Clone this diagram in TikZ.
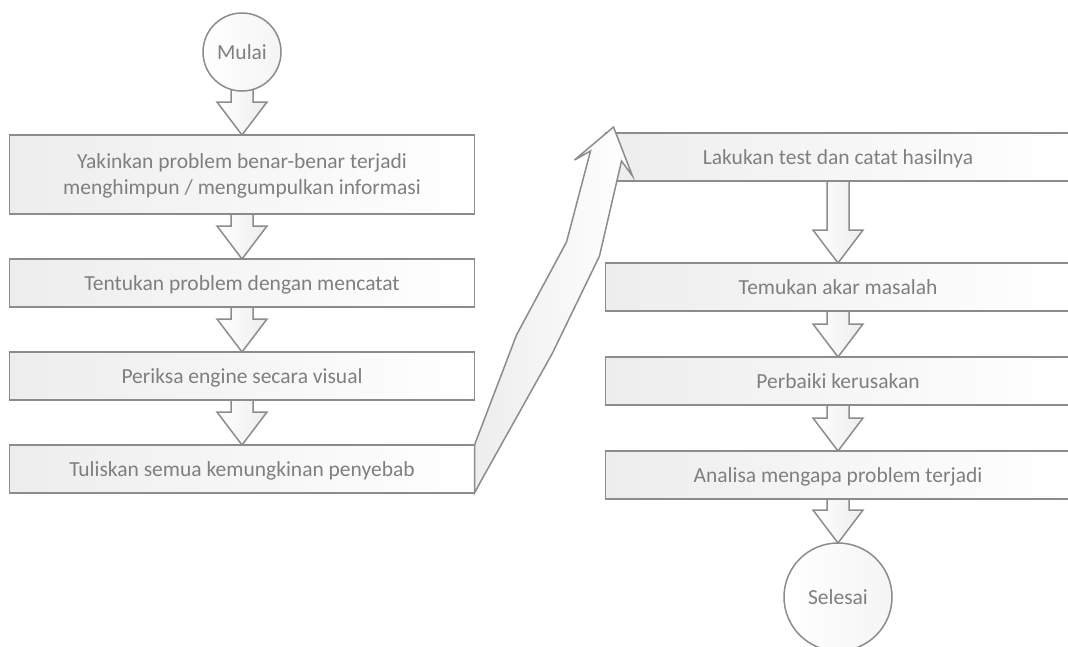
\documentclass[tikz,border=0pt]{standalone}
\usepackage{fontspec}
\setmainfont{Carlito}
\usetikzlibrary{positioning, calc}
\pgfdeclarelayer{background}
\pgfsetlayers{background,main}
\definecolor{linegray}{HTML}{8C8C8C}
\definecolor{textgray}{HTML}{7F7F7F}
\tikzset{
    x=1pt, y=-1pt, % pixel units, y grows downwards
    every node/.style={text=textgray, font=\fontsize{21.5}{26}\selectfont}, % grey Calibri-like text
    process/.style={draw=linegray, line width=1.5pt, left color=black!7, right color=white,
        minimum width=465pt, minimum height=48pt, inner sep=0pt, outer sep=0pt, text depth=0pt,
        align=center}, % the steps
    terminal/.style={circle, draw=linegray, line width=1.5pt, left color=white, right color=black!4,
        inner sep=0pt, outer sep=0pt}, % start and end
    flow/.style={draw=linegray, line width=1.5pt, left color=white, right color=black!7,
        to path={($(\tikztostart.south)+(-11,-4)$) -- ($(\tikztotarget.north)+(-11,-33)$) -- ++(-14,0)
        -- (\tikztotarget.north) -- ($(\tikztotarget.north)+(25,-33)$) -- ++(-14,0)
        -- ($(\tikztostart.south)+(11,-4)$)}}, % block arrow between two steps
    bigflow/.style={draw=linegray, line width=1.5pt, left color=black!7, right color=white,
        line join=miter}, % the long arrow to the second column
    }

\begin{document}
\begin{tikzpicture}

\useasboundingbox (0,0) rectangle (1068,646);
\clip (0,0) rectangle (1068,646);

\node[terminal, minimum size=78pt] (mulai) at (242,52) {Mulai};
\node[process, minimum height=79pt, below=44pt of mulai] (yakinkan) {Yakinkan problem benar-benar terjadi\\menghimpun / mengumpulkan informasi};
\node[process, below=45pt of yakinkan] (tentukan) {Tentukan problem dengan mencatat};
\node[process, below=45pt of tentukan] (periksa) {Periksa engine secara visual};
\node[process, below=45pt of periksa] (tuliskan) {Tuliskan semua kemungkinan penyebab};

\node[process] (lakukan) at (838,157) {Lakukan test dan catat hasilnya};
\node[process, below=82pt of lakukan] (temukan) {Temukan akar masalah};
\node[process, below=46pt of temukan] (perbaiki) {Perbaiki kerusakan};
\node[process, below=46pt of perbaiki] (analisa) {Analisa mengapa problem terjadi};
\node[terminal, minimum size=108pt, below=44pt of analisa] (selesai) {Selesai};

\begin{pgfonlayer}{background}
\draw (mulai) edge[flow] (yakinkan)
(yakinkan) edge[flow] (tentukan)
(tentukan) edge[flow] (periksa)
(periksa) edge[flow] (tuliskan)
(lakukan) edge[flow] (temukan)
(temukan) edge[flow] (perbaiki)
(perbaiki) edge[flow] (analisa)
(analisa) edge[flow] (selesai);
\end{pgfonlayer}

\draw[bigflow] (tuliskan.north east) -- ++(42,-110) -- ++(50,-93) -- ++(24,-91) -- ++(-16,9)
    -- ($(lakukan.north west)+(8,-6)$) -- ++(19,49) -- ++(-11,-15) -- ++(-22,95) -- ++(-47,97)
    -- ++(-71,127) -- (tuliskan.south east) -- cycle;

\end{tikzpicture}
\end{document}
